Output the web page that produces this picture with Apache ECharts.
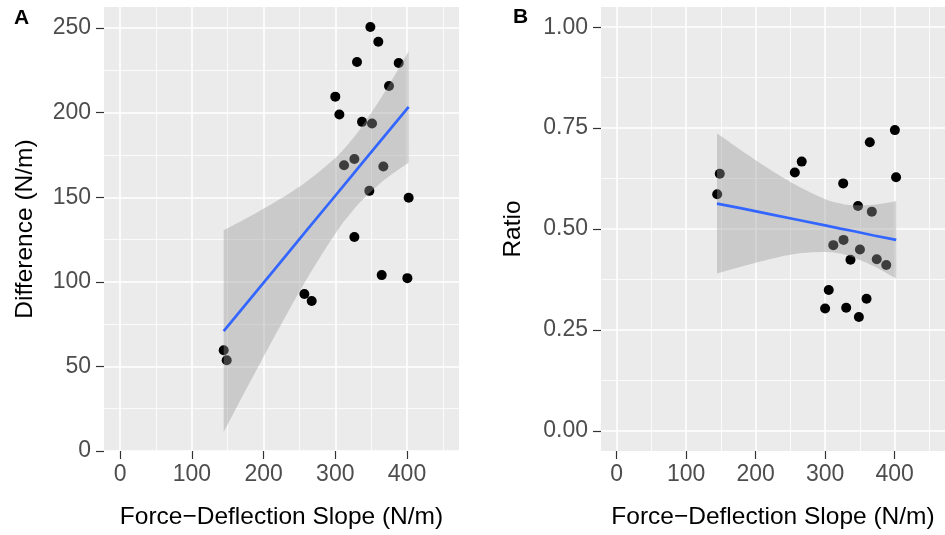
<!DOCTYPE html>
<html><head><meta charset="utf-8">
<script src="https://cdn.jsdelivr.net/npm/echarts@6/dist/echarts.min.js"></script>
<style>html,body{margin:0;padding:0;background:#fff}#c{width:945px;height:535px}</style>
</head><body><div id="c"></div>
<script>
// Panel A: Difference vs slope
const slopeA = [348.9,360,330.3,388.4,374.9,300,305.7,337.3,351.2,312.2,326.6,367,347.5,402.3,326.6,364.7,400.5,256.9,267.1,144.4,148.6];
const diffA  = [250.7,242,230,229.4,215.8,209.5,198.9,194.6,193.6,168.9,172.6,168.2,153.8,149.7,126.5,104,102.2,92.8,88.7,59.6,53.7];
// Panel B: Ratio vs slope
const slopeB = [400.4,364.3,266.3,256.4,148.4,144.7,402.1,326,347.3,367.2,311.8,326.5,350.1,336.5,374.3,388,305.2,300,330.3,359.6,348.6];
const ratioB = [0.745,0.715,0.667,0.640,0.637,0.586,0.628,0.613,0.557,0.543,0.460,0.473,0.449,0.424,0.425,0.411,0.349,0.303,0.305,0.327,0.282];
// Smoother
const fitX      = [144.4,180,220,260,300,322,340,370,402.3];
const fitA      = [70.9,89.2,109.8,130.4,150.9,162.2,171.5,186.9,203.5];
const bandLowA  = [11.3,39.9,71.4,101.5,128.5,140.9,149.4,160.8,170.5];
const bandHighA = [130.5,138.5,148.2,159.3,173.3,183.5,193.6,213.0,236.5];
const fitB      = [0.563,0.551,0.537,0.523,0.509,0.501,0.495,0.484,0.473];
const bandLowB  = [0.390,0.407,0.425,0.439,0.443,0.439,0.430,0.408,0.377];
const bandHighB = [0.737,0.694,0.648,0.607,0.574,0.563,0.559,0.560,0.569];
// Ticks
const xTicks  = [0,100,200,300,400];
const xMinor  = [50,150,250,350,450];
const yTicksA = [0,50,100,150,200,250];
const yMinorA = [25,75,125,175,225];
const yTicksB = [0,0.25,0.5,0.75,1];
const yMinorB = [0.125,0.375,0.625,0.875];
const xTitle = 'Force\u2212Deflection Slope (N/m)';

const zip = (a,b) => a.map((v,i)=>[v,b[i]]);
const FONT = 'Liberation Sans, Arial, sans-serif';
const chart = echarts.init(document.getElementById('c'), null, {renderer:'canvas'});

function majorX(g){
  return {type:'value', gridIndex:g, min:-22.5, max:472.5, position:'bottom',
    axisLine:{show:false, onZero:false},
    axisTick:{show:true, length:8, customValues:xTicks, lineStyle:{color:'#333', width:1.2}},
    axisLabel:{customValues:xTicks, color:'#4D4D4D', fontSize:23, margin:12, fontFamily:FONT},
    splitLine:{show:true, lineStyle:{color:'#fff', width:1.6}},
    name:xTitle, nameLocation:'middle', nameGap:54,
    nameTextStyle:{color:'#000', fontSize:24.5, fontFamily:FONT}};
}
function minorX(g){
  return {type:'value', gridIndex:g, min:-22.5, max:472.5, position:'bottom',
    axisLine:{show:false, onZero:false}, axisLabel:{show:false},
    axisTick:{show:false, customValues:xMinor},
    splitLine:{show:true, lineStyle:{color:'#fff', width:0.8}}};
}
function majorY(g, min, max, ticks, fmt, name, gap){
  return {type:'value', gridIndex:g, min:min, max:max, position:'left',
    axisLine:{show:false, onZero:false},
    axisTick:{show:true, length:8, customValues:ticks, lineStyle:{color:'#333', width:1.2}},
    axisLabel:{customValues:ticks, color:'#4D4D4D', fontSize:23, margin:13, fontFamily:FONT, formatter:fmt},
    splitLine:{show:true, lineStyle:{color:'#fff', width:1.6}},
    name:name, nameLocation:'middle', nameGap:gap,
    nameTextStyle:{color:'#000', fontSize:24.5, fontFamily:FONT}};
}
function minorY(g, min, max, ticks){
  return {type:'value', gridIndex:g, min:min, max:max, position:'left',
    axisLine:{show:false, onZero:false}, axisLabel:{show:false},
    axisTick:{show:false, customValues:ticks},
    splitLine:{show:true, lineStyle:{color:'#fff', width:0.8}}};
}
// Catmull-Rom curve through pixel points (rendering only)
function curve(pts){
  const out = [];
  const n = pts.length;
  for (let i = 0; i < n - 1; i++) {
    const p0 = pts[Math.max(i-1,0)], p1 = pts[i], p2 = pts[i+1], p3 = pts[Math.min(i+2,n-1)];
    for (let s = 0; s < 12; s++) {
      const t = s/12, t2 = t*t, t3 = t2*t;
      out.push([0,1].map(k => 0.5*(2*p1[k] + (-p0[k]+p2[k])*t + (2*p0[k]-5*p1[k]+4*p2[k]-p3[k])*t2 + (-p0[k]+3*p1[k]-3*p2[k]+p3[k])*t3)));
    }
  }
  out.push(pts[n-1]);
  return out;
}
function bandSeries(xi, yi, low, high){
  return {type:'custom', xAxisIndex:xi, yAxisIndex:yi, silent:true, z:3, clip:true,
    data:[0],
    renderItem:function(params, api){
      const up = curve(fitX.map((x,i)=>api.coord([x, high[i]])));
      const lo = curve(fitX.map((x,i)=>api.coord([x, low[i]])));
      return {type:'polygon', shape:{points: up.concat(lo.reverse())},
        style:{fill:'rgba(153,153,153,0.4)', stroke:null}};
    }};
}

const option = {
  animation:false,
  backgroundColor:'#fff',
  textStyle:{fontFamily:FONT},
  grid:[
    {left:104, top:7, width:355, height:446, show:true, backgroundColor:'#EBEBEB', borderWidth:0, containLabel:false},
    {left:601, top:7, width:348.5, height:446.5, show:true, backgroundColor:'#EBEBEB', borderWidth:0, containLabel:false}
  ],
  xAxis:[ majorX(0), minorX(0), majorX(1), minorX(1) ],
  yAxis:[
    majorY(0, 0, 262.5, yTicksA, v=>String(v), 'Difference (N/m)', 66),
    minorY(0, 0, 262.5, yMinorA),
    majorY(1, -0.05, 1.05, yTicksB, v=>v.toFixed(2), 'Ratio', 75),
    minorY(1, -0.05, 1.05, yMinorB)
  ],
  graphic:[
    {type:'text', left:14, top:8, style:{text:'A', font:'bold 21px '+FONT, fill:'#000'}},
    {type:'text', left:513, top:7, style:{text:'B', font:'bold 21px '+FONT, fill:'#000'}}
  ],
  series:[
    {type:'scatter', xAxisIndex:0, yAxisIndex:0, data:zip(slopeA, diffA), symbolSize:10,
     itemStyle:{color:'#000', opacity:1}, z:2},
    bandSeries(0, 0, bandLowA, bandHighA),
    {type:'line', xAxisIndex:0, yAxisIndex:0, data:zip(fitX, fitA), symbol:'none',
     lineStyle:{color:'#3366FF', width:2.7}, z:4},
    {type:'scatter', xAxisIndex:2, yAxisIndex:2, data:zip(slopeB, ratioB), symbolSize:10,
     itemStyle:{color:'#000', opacity:1}, z:2},
    bandSeries(2, 2, bandLowB, bandHighB),
    {type:'line', xAxisIndex:2, yAxisIndex:2, data:zip(fitX, fitB), symbol:'none',
     lineStyle:{color:'#3366FF', width:2.7}, z:4}
  ]
};
chart.setOption(option);
</script>
</body></html>
